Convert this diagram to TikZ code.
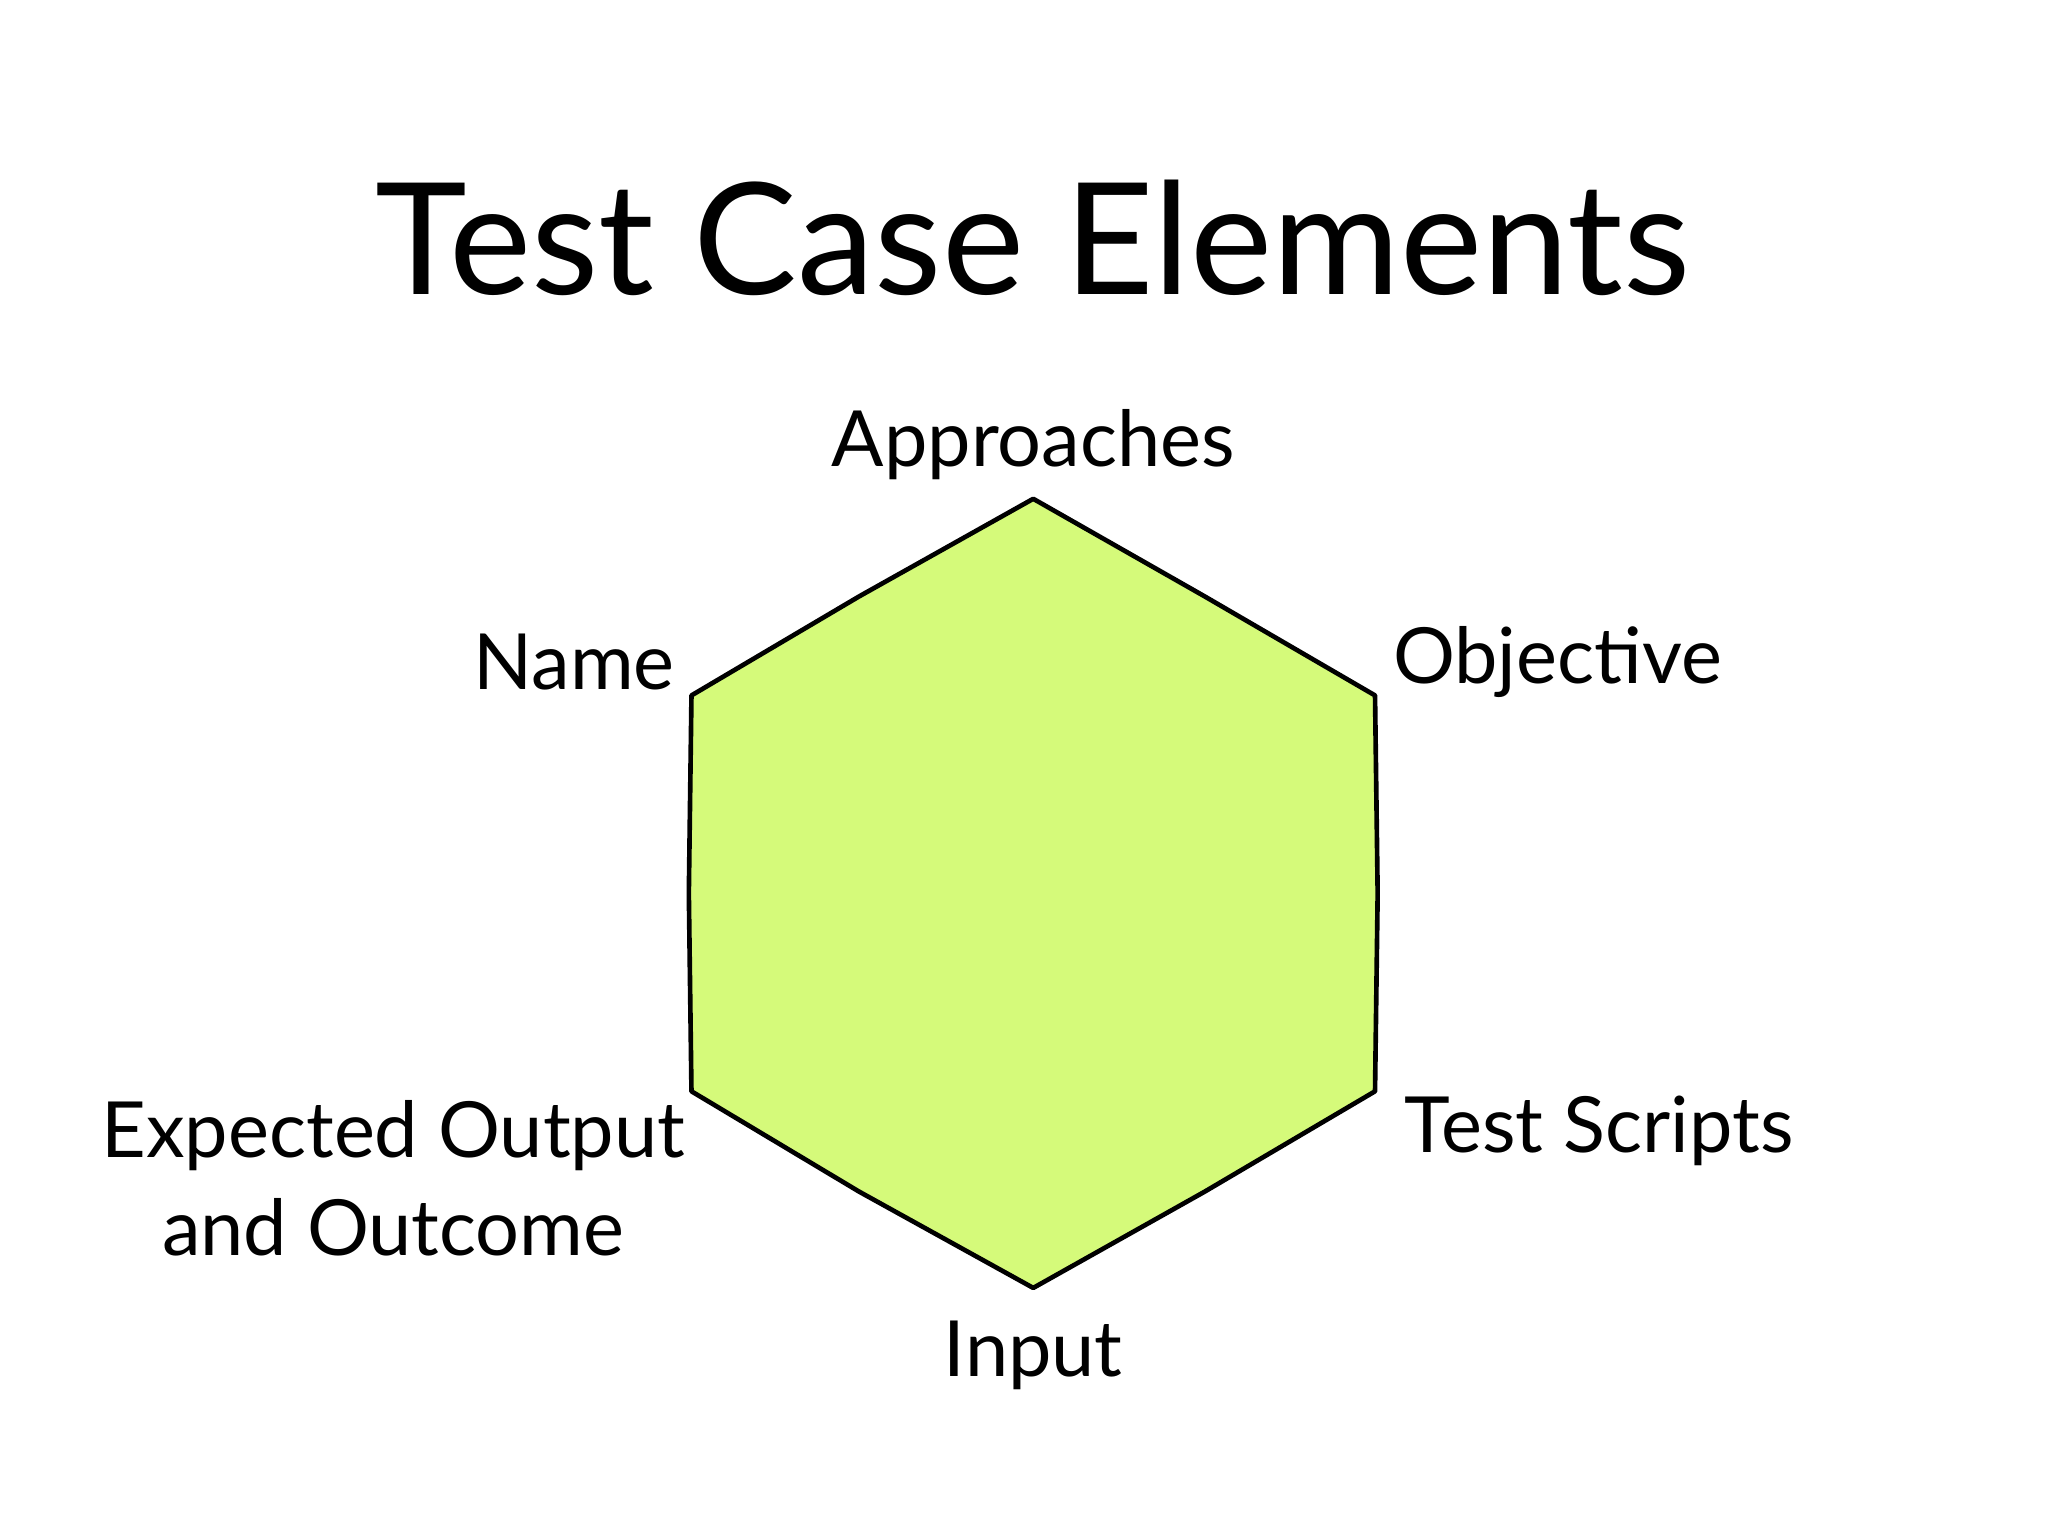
\documentclass[tikz,border=0pt]{standalone}
\usepackage{fontspec}
\setmainfont{Lato}
\definecolor{hexfill}{RGB}{213,250,122}
\begin{document}
\begin{tikzpicture}[x=0.01cm,y=-0.01cm,
  lbl/.style={font=\fontsize{16.7}{21}\selectfont, inner sep=0pt}]
\useasboundingbox (0,0) rectangle (1552,1164);
\fill[white] (0,0) rectangle (1552,1164);
\node[inner sep=0pt, font=\fontsize{33.5}{40}\selectfont] (title) at (783,180) {Test Case Elements};
\filldraw[fill=hexfill, draw=black, line width=1pt, line join=round]
 (783,378) coordinate (top) -- (913,452) -- (1042,527) -- (1044,677) -- (1042,827) -- (913,903)
 -- (783,976) coordinate (bot) -- (651,903) -- (524,827) -- (522,677) -- (524,527) -- (651,452) -- cycle;
\node[lbl] (appr) at (783,337) {Approaches};
\node[lbl, anchor=east] (name) at (512,502) {Name};
\node[lbl, anchor=west] (obj) at (1055,502) {Objective};
\node[lbl, anchor=west] (ts) at (1064,857) {Test Scripts};
\node[lbl, align=center] (exp) at (298,893) {Expected Output\\and Outcome};
\node[lbl] (inp) at (783,1027) {Input};
\end{tikzpicture}
\end{document}
